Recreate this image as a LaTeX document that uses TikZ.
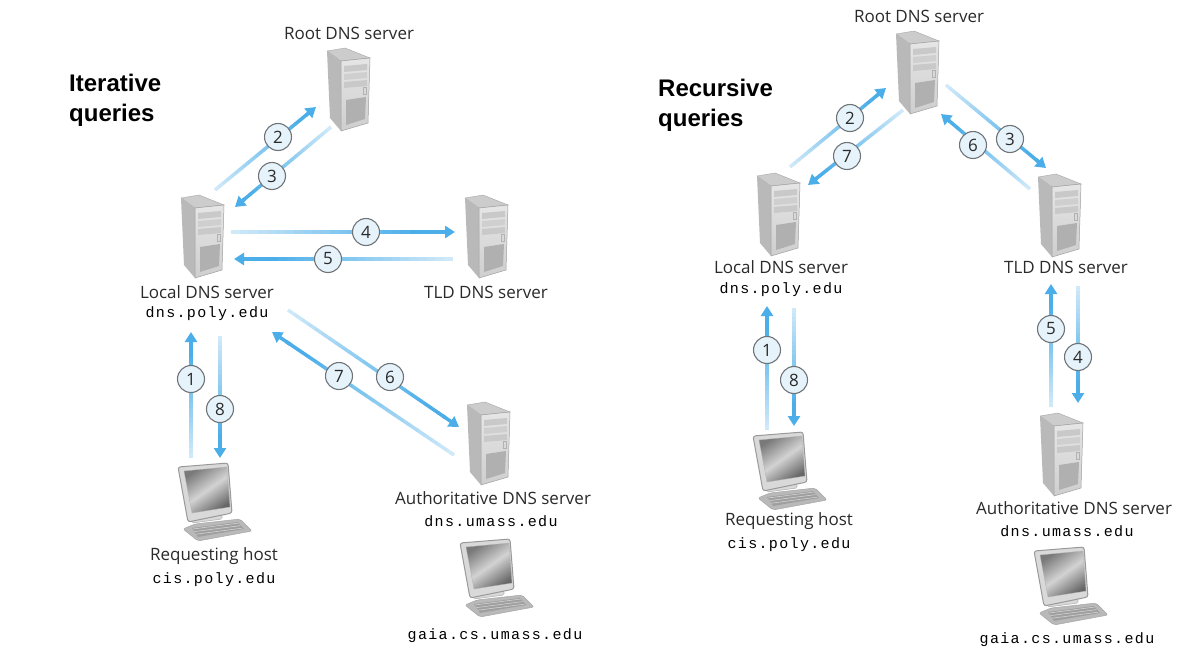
\documentclass[tikz,border=0pt]{standalone}
\usepackage{fontspec}
\setmainfont{Open Sans}
\newfontfamily\headfont{Liberation Sans}
\newfontfamily\codefont[LetterSpace=9]{Liberation Mono}
\usetikzlibrary{arrows.meta,calc}
\definecolor{flowdark}{HTML}{4BAEE8}
\definecolor{flowlight}{HTML}{CFE9F9}
\definecolor{badgefill}{HTML}{E6F3FB}
\definecolor{badgeline}{HTML}{6F7478}
\definecolor{inktext}{HTML}{2A2A2A}
\tikzset{
  x=1pt,y=-1pt,
  lab/.style={font=\fontsize{17}{20}\selectfont,text=inktext,inner sep=0pt,anchor=center},
  code/.style={font=\fontsize{15}{18}\codefont,text=black,inner sep=0pt,anchor=center},
  head/.style={font=\fontsize{24}{28}\headfont\bfseries,text=black,inner sep=0pt,anchor=west},
  badge/.style={circle,draw=badgeline,line width=1.1pt,fill=badgefill,minimum size=27pt,inner sep=0pt,font=\fontsize{17}{20}\selectfont,text=inktext},
  tower/.pic={
    \fill[gray!40,draw=gray!70,line width=.4pt] (0,0) -- (18,-3) -- (43,7) -- (14,10) -- cycle;
    \fill[gray!55] (0,0) -- (14,10) -- (14,80) -- (3,67) -- cycle;
    \shade[top color=gray!20,bottom color=gray!38,draw=gray!75,line width=.5pt] (14,10) -- (43,7) -- (41,72) -- (14,80) -- cycle;
    \fill[gray!42] (17,15) -- (40,13) -- (40,19) -- (17,21) -- cycle;
    \fill[gray!38] (17,23) -- (40,21) -- (40,27) -- (17,29) -- cycle;
    \fill[gray!42] (17,31) -- (40,29) -- (40,35) -- (17,37) -- cycle;
    \fill[gray!30,draw=gray!60,line width=.3pt] (36,36) rectangle (39,43);
    \fill[gray!62] (19,49) -- (39,46) -- (38,68) -- (19,74) -- cycle;
  },
  desktop/.pic={
    \fill[gray!55,draw=gray!70,line width=.5pt,rounded corners=2pt] (17,61) -- (62,56) -- (74,68) -- (20,78) -- (5,66) -- cycle;
    \fill[gray!75] (14,65) -- (60,59) -- (66,66) -- (20,74) -- cycle;
    \foreach \k in {0,1,2}{\draw[gray!35,line width=.6pt] ($(15,66)+(\k*1.5,\k*2.6)$) -- ($(61,60)+(\k*1.5,\k*2.6)$);}
    \fill[gray!30,draw=gray!65,line width=.5pt,rounded corners=1.5pt] (12,54) -- (16,48) -- (37,45) -- (44,52) -- (44,56) -- (14,60) -- cycle;
    \fill[gray!30,draw=gray!80,line width=1pt,rounded corners=2.5pt] (0,4) -- (50,0) -- (54,50) -- (10,59) -- cycle;
    \shade[left color=gray!95!black,right color=gray!80!black,middle color=gray!35,shading angle=35,draw=gray!60,line width=.3pt] (6,8) -- (49,4) -- (52,44) -- (14,50) -- cycle;
  }
}
\newcommand{\flowline}[2]{%
  \foreach \pa in {0,0.04,...,0.88}{%
    \pgfmathsetmacro{\pb}{\pa+0.042}%
    \pgfmathsetmacro{\mixv}{min(100,\pa*125)}%
    \draw[line width=3.5pt,color=flowdark!\mixv!flowlight] ($(#1)!\pa!(#2)$) -- ($(#1)!\pb!(#2)$);}%
  \draw[line width=3.5pt,color=flowdark,-{Triangle[length=10pt,width=12pt]}] ($(#1)!0.9!(#2)$) -- (#2);%
}
\newcommand{\flowpair}[3]{\coordinate (#1s) at #2; \coordinate (#1e) at #3; \flowline{#1s}{#1e}}
\begin{document}
\begin{tikzpicture}
\useasboundingbox[fill=white] (0,0) rectangle (1200,672);
% servers and hosts
\pic at (327,51) {tower};
\pic at (181,198) {tower};
\pic at (465,198) {tower};
\pic at (467,405) {tower};
\pic at (896,34) {tower};
\pic at (757,176) {tower};
\pic at (1038,177) {tower};
\pic at (1040,416) {tower};
\pic at (178,463) {desktop};
\pic at (460,539) {desktop};
\pic at (753,432) {desktop};
\pic at (1034,547) {desktop};
% left flows
\flowpair{la}{(191,458)}{(191,332)}
\flowpair{lh}{(220,336)}{(220,458)}
\flowpair{lb}{(215,190)}{(316,107)}
\flowpair{lc}{(331,127)}{(235,207)}
\flowpair{ld}{(231,232)}{(455,232)}
\flowpair{le}{(453,259)}{(234,259)}
\flowpair{lf}{(288,310)}{(459,427)}
\flowpair{lg}{(454,455)}{(272,332)}
% right flows
\flowpair{ra}{(767,430)}{(767,306)}
\flowpair{rh}{(794,308)}{(794,426)}
\flowpair{rb}{(790,167)}{(886,88)}
\flowpair{rg}{(903,110)}{(808,185)}
\flowpair{rc}{(946,85)}{(1046,168)}
\flowpair{rf}{(1030,189)}{(941,114)}
\flowpair{re}{(1051,407)}{(1051,284)}
\flowpair{rd}{(1078,286)}{(1078,403)}
% badges
\node[badge] (b1) at (191,379) {1};
\node[badge] (b8) at (220,409) {8};
\node[badge] (b2) at (278,137) {2};
\node[badge] (b3) at (272,176) {3};
\node[badge] (b4) at (366,232) {4};
\node[badge] (b5) at (328,259) {5};
\node[badge] (b6) at (390,377) {6};
\node[badge] (b7) at (339,376) {7};
\node[badge] (r1) at (767,350) {1};
\node[badge] (r8) at (794,380) {8};
\node[badge] (r2) at (850,118) {2};
\node[badge] (r7) at (847,156) {7};
\node[badge] (r3) at (1010,139) {3};
\node[badge] (r6) at (973,145) {6};
\node[badge] (r5) at (1051,329) {5};
\node[badge] (r4) at (1078,357) {4};
% text left
\node[head] (t1) at (69,83) {Iterative};
\node[head] (t2) at (69,115) {queries};
\node[lab] (t3) at (349,33) {Root DNS server};
\node[lab] (t4) at (207,292) {Local DNS server};
\node[code] (t5) at (207,314) {dns.poly.edu};
\node[lab] (t6) at (486,292) {TLD DNS server};
\node[lab] (t7) at (493,498) {Authoritative DNS server};
\node[code] (t8) at (491,521) {dns.umass.edu};
\node[lab] (t9) at (214,556) {Requesting host};
\node[code] (t10) at (214,580) {cis.poly.edu};
\node[code] (t11) at (495,636) {gaia.cs.umass.edu};
% text right
\node[head] (u1) at (658,88) {Recursive};
\node[head] (u2) at (658,120) {queries};
\node[lab] (u3) at (919,16) {Root DNS server};
\node[lab] (u4) at (781,267) {Local DNS server};
\node[code] (u5) at (781,290) {dns.poly.edu};
\node[lab] (u6) at (1066,267) {TLD DNS server};
\node[lab] (u7) at (1074,508) {Authoritative DNS server};
\node[code] (u8) at (1067,531) {dns.umass.edu};
\node[lab] (u9) at (789,521) {Requesting host};
\node[code] (u10) at (789,545) {cis.poly.edu};
\node[code] (u11) at (1067,640) {gaia.cs.umass.edu};
\end{tikzpicture}
\end{document}
